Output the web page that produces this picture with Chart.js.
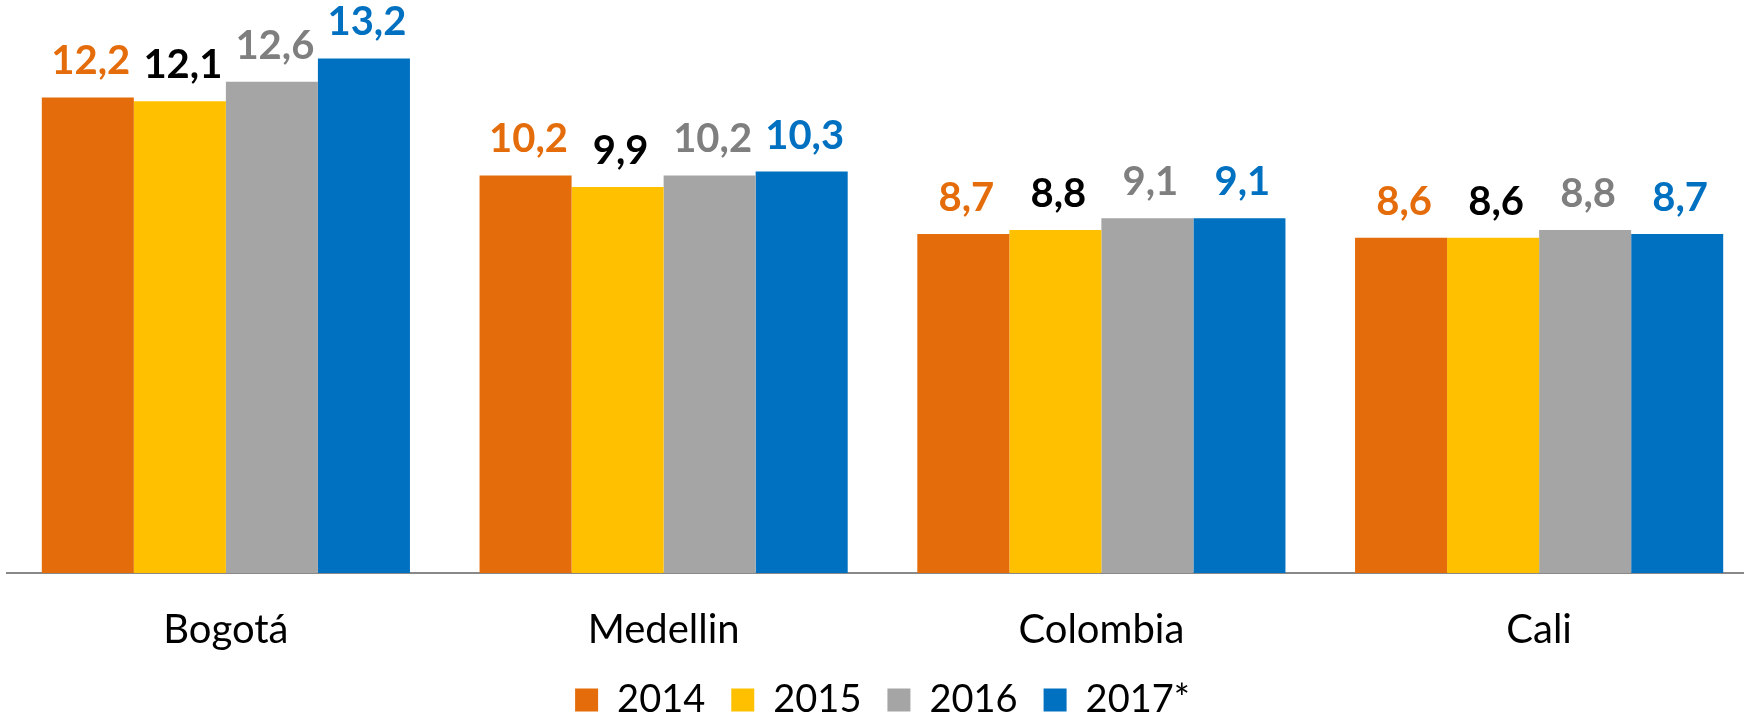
<!DOCTYPE html>
<html>
<head>
<meta charset="utf-8">
<script src="https://cdn.jsdelivr.net/npm/chart.js@4"></script>
<style>
  html, body { margin: 0; background: #fff; overflow: hidden; }
  /* plot runs slightly past the right edge, like the original crop */
  #chart { display: block; }
</style>
</head>
<body>
<canvas id="chart" width="1758" height="717"></canvas>
<script>
const cities = ["Bogotá", "Medellin", "Colombia", "Cali"];
const years = ["2014", "2015", "2016", "2017*"];
const v2014 = [12.2, 10.2, 8.7, 8.6];
const v2015 = [12.1, 9.9, 8.8, 8.6];
const v2016 = [12.6, 10.2, 9.1, 8.8];
const v2017 = [13.2, 10.3, 9.1, 8.7];

const barColors = ["#E46C0A", "#FFC000", "#A5A5A5", "#0070C0"];
const labelColors = ["#E46C0A", "#000000", "#7F7F7F", "#0070C0"];
const FONT = "Lato";

// value labels over bars (no datalabels plugin available offline)
const valueLabels = {
  id: "valueLabels",
  afterDatasetsDraw(chart) {
    const ctx = chart.ctx;
    ctx.save();
    ctx.font = "bold 40px " + FONT;
    ctx.textAlign = "center";
    ctx.textBaseline = "alphabetic";
    chart.data.datasets.forEach((ds, i) => {
      const meta = chart.getDatasetMeta(i);
      ctx.fillStyle = labelColors[i];
      meta.data.forEach((bar, j) => {
        const txt = ds.data[j].toFixed(1).replace(".", ",");
        ctx.fillText(txt, bar.x + 3, bar.y - 23);
      });
    });
    ctx.restore();
  }
};

new Chart(document.getElementById("chart"), {
  type: "bar",
  data: {
    labels: cities,
    datasets: [v2014, v2015, v2016, v2017].map((d, i) => ({
      label: years[i],
      data: d,
      backgroundColor: barColors[i],
      borderWidth: 0,
      categoryPercentage: 0.841,
      barPercentage: 1.0
    }))
  },
  options: {
    responsive: false,
    animation: false,
    devicePixelRatio: 1,
    layout: { padding: { left: 7, right: 0, top: 0, bottom: -12 } },
    scales: {
      x: {
        grid: { display: false, drawTicks: false },
        border: { display: true, color: "#898989", width: 2 },
        ticks: { color: "#000", font: { family: FONT, size: 40 }, padding: 33 },
        afterFit(scale) { scale.height -= 32; }
      },
      y: {
        display: false,
        min: 0,
        max: 14.7
      }
    },
    plugins: {
      legend: {
        position: "bottom",
        labels: {
          color: "#000",
          font: { family: FONT, size: 38 },
          boxWidth: 23,
          boxHeight: 23,
          padding: 26
        }
      },
      tooltip: { enabled: false }
    }
  },
  plugins: [valueLabels]
});
</script>
</body>
</html>
